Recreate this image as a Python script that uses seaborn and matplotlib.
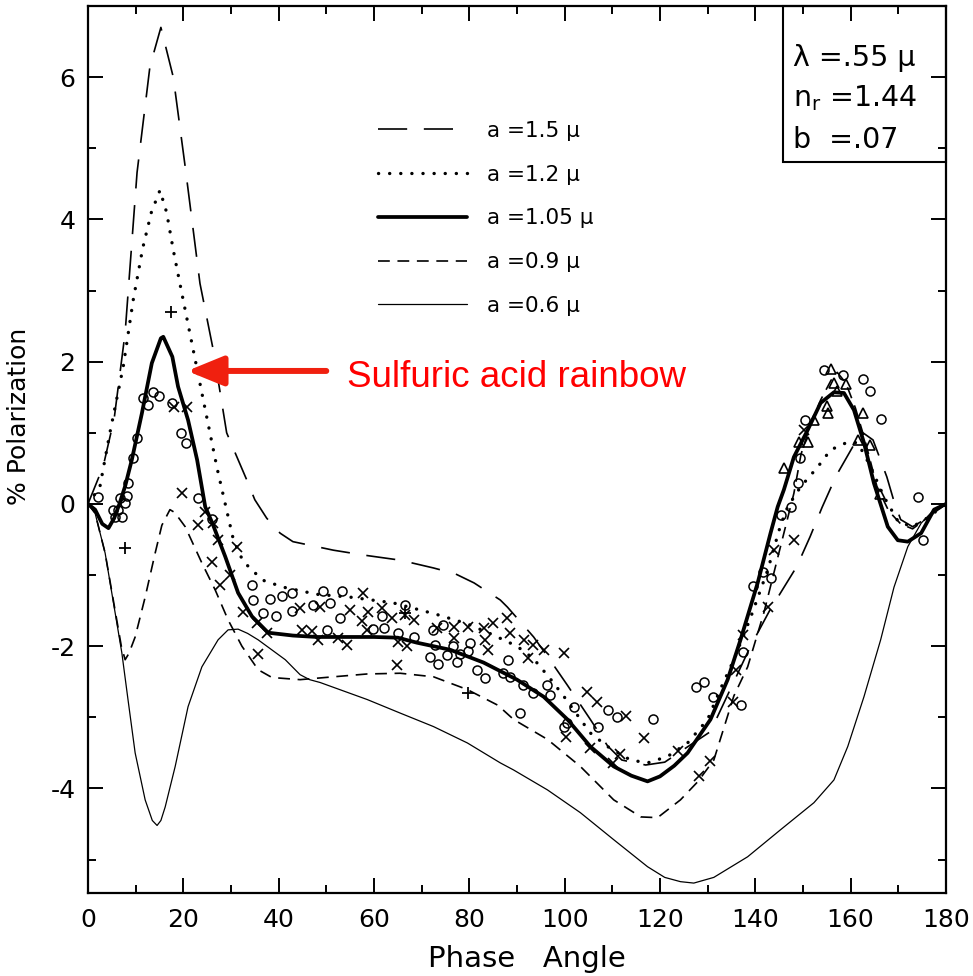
import matplotlib
matplotlib.use("Agg")
import matplotlib.pyplot as plt
from matplotlib.patches import Rectangle
import seaborn as sns

# ---- model polarization curves (% polarization vs phase angle, degrees) ----
phase_15 = [0, 3.2, 5.5, 7.8, 10.3, 13.0, 15.3, 17.9, 20.4, 23.5, 26.3, 29.1, 31.0, 33.3, 35.0,
            37.5, 40.3, 43.0, 51.5, 58.0, 65.5, 72.5, 77.0, 81.0, 86.5, 88.0, 93.5, 97.0,
            100.6, 105.4, 109.0, 112.0, 117.0, 121.0, 125.0, 130.6, 135.5, 139.0, 143.0,
            148.7, 151.5, 154.0, 157.0, 160.5, 162.6, 164.7, 167.6, 169.0, 170.5, 173.0,
            176.0, 180.0]
pol_15 = [0, 0.53, 1.2, 2.41, 4.66, 6.15, 6.7, 6.0, 4.74, 3.1, 2.16, 1.0, 0.7, 0.34, 0.06,
          -0.2, -0.41, -0.53, -0.65, -0.72, -0.79, -0.9, -0.98, -1.11, -1.35, -1.45, -1.87, -2.2,
          -2.55, -3.03, -3.4, -3.6, -3.67, -3.63, -3.45, -3.2, -2.5, -2.0, -1.5,
          -0.88, -0.46, -0.05, 0.4, 0.81, 1.0, 0.9, 0.38, 0.06, -0.22, -0.32,
          -0.2, 0]

phase_12 = [0, 2.5, 4.6, 7.4, 9.5, 11.5, 13.3, 15.1, 16.5, 17.9, 19.7, 21.8, 24.2, 27.1, 30.5,
            32.5, 34.7, 37.0, 41.0, 48.0, 55.0, 64.0, 73.0, 79.4, 84.3, 90.0, 93.4, 96.9,
            100.0, 105.4, 109.0, 113.8, 117.4, 121.6, 125.8, 130.0, 132.7, 135.5, 139.0,
            142.6, 145.3, 146.8, 149.5, 153.1, 155.8, 159.4, 161.5, 164.0, 167.0, 170.0,
            173.0, 176.0, 180.0]
pol_12 = [0, 0.24, 1.0, 1.93, 2.87, 3.6, 4.1, 4.41, 4.1, 3.57, 2.96, 2.26, 1.46, 0.5, -0.5,
          -0.8, -0.95, -1.08, -1.17, -1.27, -1.31, -1.39, -1.55, -1.68, -1.82, -2.0, -2.17, -2.45,
          -2.72, -3.22, -3.41, -3.6, -3.64, -3.55, -3.36, -3.03, -2.6, -2.19, -1.6,
          -0.93, -0.3, -0.04, 0.24, 0.52, 0.76, 0.87, 0.86, 0.55, 0.1, -0.25,
          -0.32, -0.2, 0]

phase_105 = [0, 1.5, 3.0, 4.3, 5.5, 6.6, 7.8, 9.2, 11.3, 13.4, 15.3, 15.8, 17.7, 18.9, 21.0,
             22.9, 24.6, 26.1, 28.8, 31.5, 34.4, 37.8, 43.0, 48.0, 55.0, 60.0, 65.0, 69.0,
             76.0, 83.0, 90.0, 95.6, 100.6, 105.4, 110.3, 114.0, 117.4, 120.0, 123.0, 125.8,
             130.6, 134.2, 136.9, 140.5, 143.2, 144.7, 146.0, 148.1, 151.0, 153.7, 156.5,
             158.6, 160.7, 162.8, 164.9, 167.8, 169.9, 172.0, 174.8, 177.5, 180.0]
pol_105 = [0, -0.08, -0.28, -0.34, -0.2, 0.0, 0.25, 0.62, 1.27, 1.98, 2.33, 2.35, 2.07, 1.65, 1.18,
           0.62, -0.04, -0.27, -0.74, -1.25, -1.58, -1.81, -1.85, -1.87, -1.87, -1.87, -1.88, -1.95,
           -2.05, -2.23, -2.47, -2.71, -3.03, -3.41, -3.69, -3.82, -3.9, -3.83, -3.68, -3.5,
           -3.03, -2.47, -1.91, -1.11, -0.41, -0.04, 0.2, 0.66, 1.04, 1.42, 1.57,
           1.56, 1.32, 0.86, 0.29, -0.32, -0.51, -0.53, -0.41, -0.08, 0]

phase_09 = [0, 1.5, 3.6, 5.7, 7.0, 7.8, 8.6, 9.9, 12.0, 14.1, 15.5, 17.2, 18.2, 20.4, 23.9,
            26.7, 29.4, 32.3, 35.7, 38.6, 44.5, 51.5, 58.6, 65.5, 72.5, 79.6, 86.0, 89.3,
            96.4, 103.3, 110.3, 116.0, 119.5, 124.3, 128.0, 131.3, 135.5, 138.4, 141.8,
            143.9, 146.0, 148.1, 149.6, 151.5, 153.7, 155.9, 157.2, 159.0, 161.0, 163.0,
            165.5, 168.0, 170.5, 173.0, 176.0, 180.0]
pol_09 = [0, -0.13, -0.69, -1.5, -2.0, -2.19, -2.1, -1.87, -1.31, -0.69, -0.3, -0.08, -0.12, -0.32, -0.83,
          -1.21, -1.63, -2.0, -2.33, -2.44, -2.47, -2.43, -2.39, -2.38, -2.43, -2.61, -2.83, -3.03,
          -3.31, -3.69, -4.16, -4.4, -4.41, -4.16, -3.9, -3.6, -2.7, -2.29, -1.53,
          -0.97, -0.41, 0.15, 0.7, 1.1, 1.46, 1.74, 1.85, 1.7, 1.35, 0.9,
          0.25, -0.1, -0.28, -0.35, -0.2, 0]

phase_06 = [0, 1.5, 3.6, 5.7, 7.1, 8.4, 9.9, 12.0, 13.5, 14.5, 15.3, 16.2, 18.3, 21.0, 23.9,
            27.3, 29.4, 31.5, 33.5, 35.7, 41.4, 44.5, 46.5, 48.7, 58.6, 65.5, 72.5, 79.6,
            86.5, 89.3, 96.4, 103.3, 110.3, 117.4, 121.0, 124.3, 127.1, 131.3, 138.4, 145.3,
            152.3, 156.5, 159.4, 162.8, 166.3, 169.1, 172.0, 174.8, 177.5, 180.0]
pol_06 = [0, -0.13, -0.69, -1.53, -2.09, -2.75, -3.5, -4.16, -4.45, -4.52, -4.45, -4.26, -3.69, -2.85, -2.29,
          -1.91, -1.77, -1.76, -1.82, -1.91, -2.19, -2.4, -2.47, -2.51, -2.75, -2.94, -3.13, -3.36,
          -3.64, -3.74, -4.02, -4.34, -4.72, -5.1, -5.25, -5.31, -5.33, -5.25, -4.96, -4.58,
          -4.2, -3.88, -3.41, -2.71, -1.91, -1.17, -0.6, -0.27, -0.08, 0]

# ---- observations ----
circle_phase = [2.1, 5.3, 6.3, 5.7, 7.1, 6.7, 8.2, 7.8, 8.4, 9.5, 10.3, 11.6, 12.6, 13.7, 14.9,
                17.7, 19.5, 20.6, 23.1, 26.0, 34.4, 34.7, 36.8, 38.2, 39.5, 40.7, 42.8, 42.8,
                47.3, 49.4, 50.8, 52.9, 53.3, 50.1, 59.9, 61.7, 62.2, 65.1, 66.6, 68.3, 72.3,
                72.9, 71.8, 73.5, 75.4, 76.5, 77.5, 78.1, 80.2, 79.8, 81.7, 83.4, 74.4, 88.2,
                87.0, 88.6, 91.2, 93.3, 90.7, 96.4, 97.0, 100.6, 99.8, 101.9, 107.1, 109.0,
                110.9, 118.5, 127.5, 129.2, 131.1, 137.4, 136.9, 139.5, 141.6, 143.2, 145.3,
                147.4, 148.9, 149.4, 150.4, 154.4, 158.4, 162.6, 164.0, 166.3, 174.1, 175.2]
circle_pol = [0.1, -0.08, -0.08, -0.18, -0.18, 0.08, 0.11, 0.01, 0.3, 0.65, 0.93, 1.49, 1.39, 1.57, 1.52,
              1.42, 1.0, 0.86, 0.08, -0.21, -1.14, -1.35, -1.53, -1.34, -1.58, -1.3, -1.25, -1.51,
              -1.42, -1.23, -1.39, -1.6, -1.23, -1.77, -1.76, -1.57, -1.74, -1.81, -1.42, -1.87, -1.77,
              -1.98, -2.15, -2.25, -2.12, -2.0, -2.22, -2.11, -1.96, -2.07, -2.33, -2.45, -1.7, -2.19,
              -2.38, -2.43, -2.55, -2.66, -2.94, -2.55, -2.68, -3.08, -3.14, -2.85, -3.13, -2.89,
              -2.99, -3.02, -2.58, -2.5, -2.71, -2.08, -2.82, -1.16, -0.95, -1.04, -0.15,
              -0.04, 0.29, 0.64, 1.18, 1.88, 1.81, 1.76, 1.59, 1.19, 0.1, -0.51]

cross_phase = [19.7, 23.1, 24.6, 26.3, 27.3, 26.0, 27.7, 29.8, 31.3, 32.6, 35.5, 35.7, 37.6, 18.1, 20.8,
               44.9, 47.0, 48.3, 52.5, 54.4, 44.5, 48.7, 55.0, 57.8, 58.8, 57.5, 58.6, 61.7, 63.8,
               66.6, 68.3, 65.1, 67.0, 64.9, 73.3, 76.7, 79.8, 83.0, 84.9, 76.7, 83.4, 84.0, 88.0,
               88.6, 91.4, 93.3, 92.4, 95.6, 99.8, 100.2, 104.6, 106.7, 112.8, 116.6, 105.4, 110.1,
               111.7, 123.7, 130.6, 128.1, 135.3, 135.9, 137.4, 142.6, 143.9, 148.1, 150.2]
cross_pol = [0.15, -0.29, -0.11, -0.27, -0.5, -0.81, -1.14, -1.0, -0.6, -1.52, -1.67, -2.11, -1.81, 1.36, 1.36,
             -1.77, -1.78, -1.91, -1.88, -1.98, -1.46, -1.45, -1.49, -1.25, -1.52, -1.65, -1.77, -1.46, -1.6,
             -1.56, -1.63, -1.94, -1.99, -2.26, -1.74, -1.73, -1.73, -1.74, -1.67, -1.88, -1.91, -2.05, -1.6,
             -1.81, -1.91, -1.98, -2.16, -2.05, -2.09, -3.28, -2.64, -2.79, -2.98, -3.29, -3.43, -3.64,
             -3.51, -3.48, -3.62, -3.83, -2.78, -2.33, -1.84, -1.45, -0.65, -0.51, 1.04]

plus_phase = [17.4, 7.8, 66.6, 79.8]
plus_pol = [2.7, -0.62, -1.53, -2.66]

tri_phase = [146.0, 149.1, 151.0, 152.3, 155.2, 155.0, 155.8, 156.5, 157.1, 159.0, 162.6, 161.5, 164.0, 166.1]
tri_pol = [0.5, 0.87, 0.87, 1.18, 1.28, 1.38, 1.9, 1.7, 1.59, 1.69, 1.28, 0.9, 0.83, 0.14]

legend_labels = ["a =1.5 μ", "a =1.2 μ", "a =1.05 μ", "a =0.9 μ", "a =0.6 μ"]

sns.set_theme(style="ticks", rc={"text.color": "black", "axes.labelcolor": "black",
                                 "xtick.color": "black", "ytick.color": "black",
                                 "axes.edgecolor": "black"})
plt.rcParams["font.family"] = ["DejaVu Sans"]
plt.rcParams["axes.unicode_minus"] = False
plt.rcParams["lines.scale_dashes"] = False

fig = plt.figure(figsize=(9.73, 9.76), dpi=100)
ax = fig.add_axes([0.0904, 0.0850, 0.8818, 0.9088])

curve_specs = [
    (phase_15, pol_15, dict(lw=1.2, linestyle=(0, (21, 12)))),
    (phase_12, pol_12, dict(lw=2.4, linestyle=(0, (0.1, 7.9)), dash_capstyle="round")),
    (phase_105, pol_105, dict(lw=2.7, linestyle="-", solid_capstyle="round")),
    (phase_09, pol_09, dict(lw=1.2, linestyle=(0, (8.5, 5.5)))),
    (phase_06, pol_06, dict(lw=0.9, linestyle="-")),
]
handles = []
for xs, ys, style in curve_specs:
    sns.lineplot(x=xs, y=ys, ax=ax, color="black", estimator=None, sort=False,
                 legend=False, **style)
    handles.append(ax.lines[-1])

marker_common = dict(ax=ax, color="black", estimator=None, sort=False, legend=False,
                     linestyle="none", mec="black")
sns.lineplot(x=circle_phase, y=circle_pol, marker="o", ms=6.5, mfc="none", mew=1.1, **marker_common)
sns.lineplot(x=cross_phase, y=cross_pol, marker="x", ms=6.5, mew=1.2, **marker_common)
sns.lineplot(x=plus_phase, y=plus_pol, marker="+", ms=8, mew=1.3, **marker_common)
sns.lineplot(x=tri_phase, y=tri_pol, marker="^", ms=7, mfc="none", mew=1.2, **marker_common)

ax.set_xlim(0, 180)
ax.set_ylim(-5.47, 7.0)
ax.set_xticks(range(0, 181, 20))
ax.set_xticks(range(0, 181, 10), minor=True)
ax.set_yticks([-4, -2, 0, 2, 4, 6])
ax.set_yticks(range(-5, 7), minor=True)
ax.tick_params(which="both", direction="in", top=True, right=True, width=1.4, color="black")
ax.tick_params(which="major", length=11, labelsize=18)
ax.tick_params(axis="x", which="major", pad=11)
ax.tick_params(axis="y", which="major", pad=9)
ax.tick_params(which="minor", length=6)
for sp in ax.spines.values():
    sp.set_linewidth(1.6)
    sp.set_color("black")

ax.set_xlabel("Phase   Angle", fontsize=21)
ax.set_ylabel("% Polarization", fontsize=18)
ax.xaxis.set_label_coords(0.512, -0.0586)
ax.yaxis.set_label_coords(-0.066, 0.537)

# parameter box in the upper right corner
ax.add_patch(Rectangle((0.810, 0.824), 0.19, 0.176, transform=ax.transAxes,
                       fill=False, lw=1.5, edgecolor="black", clip_on=False))
box_lines = ["λ =.55 μ", r"n$_\mathregular{r}$ =1.44", "b  =.07"]
for txt, yy in zip(box_lines, [0.941, 0.896, 0.849]):
    ax.text(0.822, yy, txt, transform=ax.transAxes, fontsize=20.5, va="center", ha="left")

ax.legend(handles, legend_labels, loc="upper left", bbox_to_anchor=(0.3885, 0.876),
          bbox_transform=fig.transFigure, frameon=False, fontsize=15.5, handlelength=4.15,
          handletextpad=0.93, labelspacing=1.1, borderpad=0, borderaxespad=0)

# rainbow annotation
ax.annotate("", xy=(20.8, 1.87), xytext=(50.0, 1.87),
            arrowprops=dict(arrowstyle="-|>,head_length=1.1,head_width=0.45",
                            lw=4.3, color="#f0200f", shrinkA=0, shrinkB=0,
                            mutation_scale=20))
ax.text(54.3, 1.65, "Sulfuric acid rainbow", color="#ff0000", fontsize=26.5,
        family=["Liberation Sans", "DejaVu Sans"], ha="left", va="baseline")

fig.savefig("out.png", dpi=100)
